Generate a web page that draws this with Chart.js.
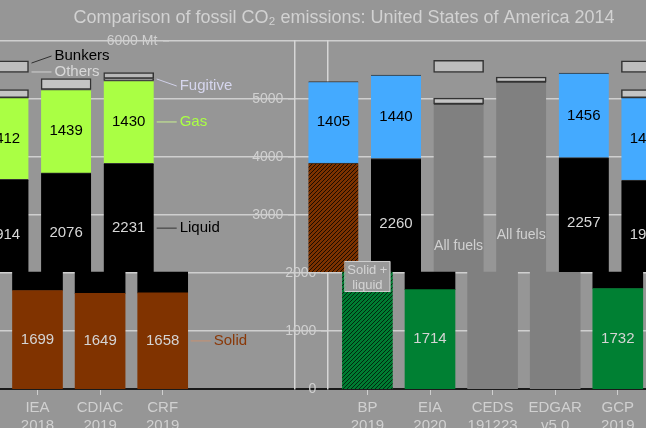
<!DOCTYPE html>
<html lang="en">
<head>
<meta charset="UTF-8">
<title>Comparison of fossil CO2 emissions</title>
<script src="https://cdn.jsdelivr.net/npm/chart.js"></script>
<style>
  html, body { margin: 0; padding: 0; background: #969696; }
  canvas { display: block; }
</style>
</head>
<body>
<canvas id="chart" width="646" height="428"></canvas>
<script>
// sources and their versions (x categories); the last bar is cut off at the right edge
const sources  = ['IEA', 'CDIAC', 'CRF', 'BP', 'EIA', 'CEDS', 'EDGAR', 'GCP', ''];
const versions = ['2018', '2019', '2019', '2019', '2020', '191223', 'v5.0', '2019', ''];

// Mt CO2 by fuel, one value per source
const solid       = [1699, 1649, 1658, null, 1714, null, null, 1732, 1703];
const solidLiquid = [null, null, null, 3897, null, null, null, null, null];
const liquid      = [1914, 2076, 2231, null, 2260, null, null, 2257, 1900];
const gas         = [1412, 1439, 1430, 1405, 1440, null, null, 1456, 1420];
const allFuels    = [null, null, null, null, null, 4914, 5293, null, null];
const others      = [138, 190, 35, null, null, 100, 85, null, 140];
const fugitive    = [null, null, 100, null, null, null, null, null, null];
const bunkers     = [200, null, null, null, null, 205, null, null, 200];

// y tick labels, in three pieces as they sit in the picture
const yTicksTop = [6000];
const yTicksMid = [3000, 4000, 5000];
const yTicksLow = [0, 1000, 2000];

const title = 'Comparison of fossil CO\u2082 emissions: United States of America 2014';

// layout
const PX_PER_SLOT = 62.6;
const X_MIN = -3.5 / PX_PER_SLOT;
const X_MAX = X_MIN + 646 / PX_PER_SLOT;
const SHIFT = 34 / PX_PER_SLOT;   // lower part of the picture sits 34px to the right
const GAP = 2.27;                 // room for the fuel labels between CRF and BP
const CUT = 2017;                 // Mt level where upper and lower parts meet
const BUNKER_BASE = 5460;
const slot = i => i + (i >= 3 ? GAP : 0);
const pxToSlot = px => X_MIN + px / PX_PER_SLOT;

Chart.defaults.font.family = '"Liberation Sans", Arial, Helvetica, sans-serif';
Chart.defaults.color = '#d0d0d0';

const canvas = document.getElementById('chart');
const ctx0 = canvas.getContext('2d');

function hatch(bg, fg) {
  const c = document.createElement('canvas');
  c.width = 4; c.height = 4;
  const g = c.getContext('2d');
  g.fillStyle = bg;
  g.fillRect(0, 0, 4, 4);
  g.strokeStyle = fg;
  g.lineWidth = 1;
  g.beginPath();
  g.moveTo(0, 4); g.lineTo(4, 0);
  g.moveTo(-1, 1); g.lineTo(1, -1);
  g.moveTo(3, 5); g.lineTo(5, 3);
  g.stroke();
  return ctx0.createPattern(c, 'repeat');
}
const hatchUpper = hatch('#7c3200', '#1c0c00');
const hatchLower = hatch('#007c32', '#00280e');

const series = [
  { name: 'Solid', values: solid, fill: i => i < 3 ? '#803300' : '#008033', text: '#d4d4d4' },
  { name: 'Solid + liquid', values: solidLiquid, fill: (i, up) => up ? hatchUpper : hatchLower, boxed: ['Solid +', 'liquid'] },
  { name: 'Liquid', values: liquid, fill: () => '#000000', text: '#d8d8d8' },
  { name: 'Gas', values: gas, fill: i => i < 3 ? '#aaff44' : '#44aaff', text: '#000000' },
  { name: 'All fuels', values: allFuels, fill: () => '#808080', text: '#d0d0d0', word: 'All fuels' },
  { name: 'Others', values: others, fill: () => '#c4c4c4', outline: true },
  { name: 'Fugitive', values: fugitive, fill: () => '#b8b8b8', outline: true }
];

// fuel labels beside the bars
const notes = [
  { text: 'Bunkers', color: '#000000', line: '#303030', bar: 0, from: 5620, at: 5741 },
  { text: 'Others', color: '#d8d8d8', line: '#d0d0d0', bar: 0, from: 5466, at: 5466 },
  { text: 'Fugitive', color: '#d6d6ee', line: '#d0d0e8', bar: 2, from: 5345, at: 5224 },
  { text: 'Gas', color: '#aaff44', line: '#c8f090', bar: 2, series: 'Gas' },
  { text: 'Liquid', color: '#000000', line: '#333333', bar: 2, series: 'Liquid' },
  { text: 'Solid', color: '#8a3808', line: '#c89070', bar: 2, series: 'Solid' }
];

function bar(data, xAxisID, colors, border) {
  return {
    data: data,
    xAxisID: xAxisID,
    yAxisID: 'y',
    backgroundColor: colors,
    borderColor: '#333333',
    borderWidth: border,
    borderSkipped: false,
    grouped: false,
    barThickness: 50,
    maxBarThickness: 50
  };
}

// stack the fuels by hand, splitting each piece at CUT
const level = sources.map(() => 0);
const segments = [];
const datasets = [];
series.forEach(s => {
  const lo = [], hi = [];
  s.values.forEach((v, i) => {
    if (!v) return;
    const b = level[i], t = b + v;
    level[i] = t;
    segments.push({ s, i, b, t });
    if (b < CUT) lo.push({ x: slot(i), y: [b, Math.min(t, CUT)], i });
    if (t > CUT) hi.push({ x: slot(i), y: [Math.max(b, CUT), t], i });
  });
  datasets.push(bar(lo, 'x2', lo.map(p => s.fill(p.i, false)), s.outline ? 1.5 : 0));
  datasets.push(bar(hi, 'x', hi.map(p => s.fill(p.i, true)),
    s.outline ? 1.5 : { top: 1, right: 0, bottom: 0, left: 0 }));
});
const bunkerData = bunkers
  .map((v, i) => v ? { x: slot(i), y: [BUNKER_BASE, BUNKER_BASE + v] } : null)
  .filter(Boolean);
datasets.push(bar(bunkerData, 'x', '#bdbdbd', 1.5));

const slotTicks = sc => {
  sc.ticks = sources
    .map((n, i) => ({ value: slot(i), name: n }))
    .filter(t => t.name && t.value >= sc.min && t.value <= sc.max)
    .map(t => ({ value: t.value }));
};

// y axes sit inside the plot; labels end 11px left of the axis line
function yAxis(px, values, fmt, showBorder) {
  return {
    axis: 'y',
    type: 'linear',
    min: 0,
    max: 6000,
    position: { x: pxToSlot(px) },
    afterBuildTicks: sc => { sc.ticks = values.map(v => ({ value: v })); },
    afterFit: sc => { sc.width = 0; },
    ticks: { color: '#d0d0d0', font: { size: 14 }, padding: 5, callback: v => (fmt ? fmt(v) : String(v)) + '   ' },
    grid: { color: '#cfcfcf', lineWidth: 1.5, tickLength: 6 },
    border: { display: showBorder, color: '#d6d6d6', width: 1.5 }
  };
}

const overlay = {
  id: 'overlay',
  afterDatasetsDraw(chart) {
    const { ctx, scales } = chart;
    const ys = scales.y;
    const px = (i, up) => scales[up ? 'x' : 'x2'].getPixelForValue(slot(i));
    ctx.save();
    ctx.textAlign = 'center';
    ctx.textBaseline = 'middle';

    // values inside the bars
    segments.forEach(({ s, i, b, t }) => {
      const mid = (b + t) / 2, up = mid >= CUT;
      const x = px(i, up), y = ys.getPixelForValue(mid);
      if (s.boxed) {
        ctx.fillStyle = '#999999';
        ctx.fillRect(x - 22, y - 14, 45, 30);
        ctx.strokeStyle = '#cfcfcf';
        ctx.lineWidth = 1;
        ctx.strokeRect(x - 22.5, y - 14.5, 45, 30);
        ctx.fillStyle = '#d4d4d4';
        ctx.font = '13px "Liberation Sans", Arial, sans-serif';
        ctx.fillText(s.boxed[0], x, y - 6);
        ctx.fillText(s.boxed[1], x, y + 9);
        return;
      }
      if (!s.text) return;
      ctx.fillStyle = s.text;
      ctx.font = (s.word ? '14px' : '15px') + ' "Liberation Sans", Arial, sans-serif';
      ctx.fillText(s.word || String(s.values[i]), x, y);
    });

    // fuel names with leader lines
    ctx.textAlign = 'left';
    ctx.font = '15px "Liberation Sans", Arial, sans-serif';
    notes.forEach(n => {
      let from = n.from, at = n.at;
      if (n.series) {
        const seg = segments.find(g => g.s.name === n.series && g.i === n.bar);
        from = at = (seg.b + seg.t) / 2;
      }
      const up = at >= CUT;
      const right = px(n.bar, up) + 25;
      const y0 = ys.getPixelForValue(from), y1 = ys.getPixelForValue(at);
      ctx.strokeStyle = n.line;
      ctx.lineWidth = 1;
      ctx.beginPath();
      ctx.moveTo(right + 3, y0);
      ctx.lineTo(right + 23, y1);
      ctx.stroke();
      ctx.fillStyle = n.color;
      ctx.fillText(n.text, right + 26, y1);
    });

    // title
    ctx.textAlign = 'center';
    ctx.fillStyle = '#d2d2d2';
    ctx.font = '18px "Liberation Sans", Arial, sans-serif';
    ctx.fillText(title, 344, 18);
    ctx.restore();
  }
};

new Chart(canvas, {
  type: 'bar',
  data: { datasets: datasets },
  options: {
    responsive: false,
    animation: false,
    layout: { padding: { top: 41, left: 0, right: 0, bottom: 0 } },
    plugins: { legend: { display: false }, tooltip: { enabled: false } },
    scales: {
      x: {
        type: 'linear',
        min: X_MIN,
        max: X_MAX,
        offset: false,
        display: false,
        afterBuildTicks: slotTicks
      },
      x2: {
        axis: 'x',
        type: 'linear',
        position: 'bottom',
        min: X_MIN - SHIFT,
        max: X_MAX - SHIFT,
        offset: false,
        afterBuildTicks: slotTicks,
        afterFit: sc => { sc.height = 39; },
        ticks: {
          color: '#d0d0d0',
          font: { size: 15 },
          padding: 4,
          autoSkip: false,
          maxRotation: 0,
          callback: v => {
            const i = sources.findIndex((_, k) => Math.abs(slot(k) - v) < 1e-6);
            return [sources[i], versions[i]];
          }
        },
        grid: { drawOnChartArea: false, offset: false, tickLength: 6, color: '#cfcfcf' },
        border: { color: '#1a1a1a', width: 2 }
      },
      y: yAxis(295, yTicksMid, null, true),
      yTop: yAxis(169, yTicksTop, v => v + ' Mt', false),
      yLow: yAxis(328, yTicksLow, null, true)
    }
  },
  plugins: [overlay]
});
</script>
</body>
</html>
